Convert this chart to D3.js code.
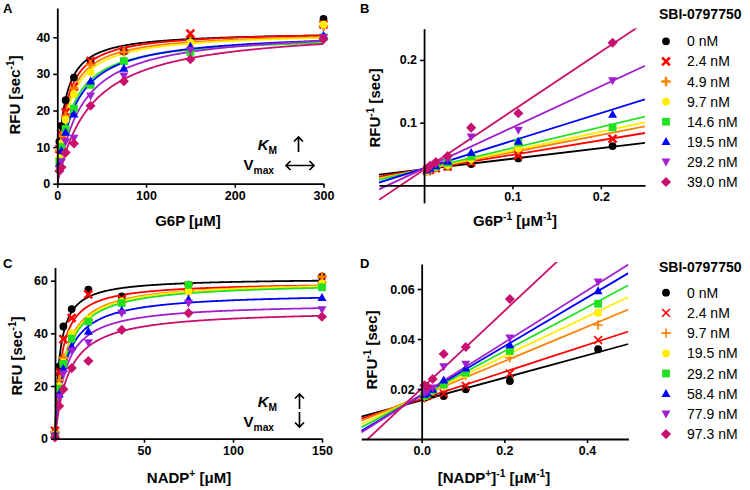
<!DOCTYPE html>
<html><head><meta charset="utf-8">
<script src="https://cdn.jsdelivr.net/npm/d3@7"></script>
<style>
body{margin:0;background:#fff}
text{font-family:"Liberation Sans",Arial,Helvetica,sans-serif}
</style>
</head><body>
<svg id="chart" width="750" height="490"></svg>
<script>
// ---------------- data ----------------
const legendTitle = "SBI-0797750";
const legendB = ["0 nM","2.4 nM","4.9 nM","9.7 nM","14.6 nM","19.5 nM","29.2 nM","39.0 nM"];
const legendD = ["0 nM","2.4 nM","9.7 nM","19.5 nM","29.2 nM","58.4 nM","77.9 nM","97.3 nM"];

// Panel A: RFU vs G6P
const g6p = [2.34, 4.69, 9.38, 18.75, 37.5, 75, 150, 300];
const rfuA = [
  [11.5, 15.8, 22.8, 29.0, 33.3, 36.2, 39.5, 45.0],
  [9.5, 13.5, 19.5, 26.5, 33.5, 36.5, 41.0, 43.5],
  [9.0, 13.0, 18.5, 26.0, 32.5, 36.0, 39.0, 43.0],
  [7.0, 11.0, 17.5, 24.5, 30.5, 33.5, 38.5, 43.5],
  [6.0, 10.0, 15.0, 20.5, 27.0, 33.5, 36.0, 40.0],
  [5.5, 9.0, 14.0, 19.0, 28.0, 31.5, 37.5, 40.5],
  [4.0, 6.0, 11.5, 12.5, 24.0, 29.5, 36.5, 40.0],
  [3.5, 4.5, 8.5, 11.0, 21.3, 28.0, 34.0, 39.5]
];
const vmaxA = [41.5, 41.8, 41.5, 41.5, 40.5, 41.5, 42.5, 43.0];
const kmA   = [7.5, 9.5, 11.0, 12.5, 16.0, 19.0, 27.0, 38.0];

// Panel B: double reciprocal of A
const invG6p = [0.0033, 0.0067, 0.0133, 0.0267, 0.0533, 0.1067, 0.2133];
const invRfuB = [
  [0.0225, 0.0255, 0.028, 0.030, 0.034, 0.043, 0.0627],
  [0.023, 0.0245, 0.0275, 0.030, 0.037, 0.048, 0.0743],
  [0.0235, 0.025, 0.028, 0.031, 0.040, 0.057, null],
  [0.023, 0.026, 0.029, 0.032, 0.042, 0.059, null],
  [0.025, 0.028, 0.030, 0.036, 0.046, 0.068, 0.0925],
  [0.0245, 0.027, 0.031, 0.038, 0.052, 0.070, 0.113],
  [0.025, 0.029, 0.034, 0.042, 0.0775, 0.088, 0.167],
  [0.026, 0.031, 0.037, 0.0467, 0.092, 0.115, 0.2275]
];
const slopeB     = [0.168, 0.232, 0.274, 0.300, 0.334, 0.441, 0.655, 0.940];
const interceptB = [0.0257, 0.0255, 0.0255, 0.0255, 0.0260, 0.0270, 0.0270, 0.0250];

// Panel C: RFU vs NADP+
const nadp = [0, 2.34, 4.69, 9.38, 18.75, 37.5, 75, 150];
const rfuC = [
  [2.0, 27.4, 42.6, 49.2, 56.6, 54.0, 58.5, 61.5],
  [3.0, 25.5, 37.8, 45.8, 54.8, 53.0, 57.5, 60.5],
  [2.5, 22.3, 30.6, 39.5, 45.0, 52.0, 56.0, 61.5],
  [1.5, 20.0, 29.0, 40.1, 45.5, 52.0, 56.0, 59.0],
  [1.0, 19.0, 28.4, 38.0, 44.5, 51.5, 58.4, 57.5],
  [1.5, 16.9, 26.6, 35.0, 40.7, 48.7, 53.0, 53.5],
  [1.0, 15.9, 24.7, 33.5, 36.5, 47.7, 51.5, 49.0],
  [0.5, 12.4, 18.8, 26.8, 29.5, 41.3, 47.7, 46.3]
];
const vmaxC = [61.0, 59.5, 60.0, 60.0, 59.5, 55.5, 51.5, 49.0];
const kmC   = [2.5, 3.4, 5.2, 5.5, 5.8, 5.6, 5.8, 7.5];

// Panel D: double reciprocal of C
const invNadp = [0.0067, 0.0133, 0.0267, 0.0533, 0.1067, 0.2133, 0.4267];
const invRfuD = [
  [0.0165, 0.0170, 0.0178, 0.0172, 0.0199, 0.0232, 0.0359],
  [0.0170, 0.0172, 0.0183, 0.0182, 0.0213, 0.0262, 0.0396],
  [0.0163, 0.0178, 0.0192, 0.0210, 0.0255, 0.0325, 0.0456],
  [0.0172, 0.0180, 0.0193, 0.0215, 0.0260, 0.0345, 0.0505],
  [0.0173, 0.0180, 0.0195, 0.0218, 0.0265, 0.0352, 0.0541],
  [0.0178, 0.0183, 0.0198, 0.0235, 0.0283, 0.0376, 0.0592],
  [0.0185, 0.0190, 0.0205, 0.0290, 0.0300, 0.0405, 0.0629],
  [0.0215, 0.0210, 0.0240, 0.0340, 0.0368, 0.0560, null]
];
const slopeD     = [0.045, 0.054, 0.069, 0.0788, 0.088, 0.0977, 0.104, 0.155];
const interceptD = [0.0155, 0.0160, 0.0173, 0.0174, 0.0175, 0.0175, 0.0178, 0.0202];

// ---------------- styles ----------------
const colors = ["#000000","#ff0000","#ff7f00","#ffee00","#22e022","#0000ff","#a020d0","#c8106e"];
const shapes = ["circle","x","plus","circle","square","triUp","triDown","diamond"];
const LW = 1.8, MR = 3.9;

const svg = d3.select("#chart");
const FONT = '"Liberation Sans",Arial,Helvetica,sans-serif';

function symbolPath(shape, r) {
  switch (shape) {
    case "circle": return d3.symbol(d3.symbolCircle, Math.PI*r*r)();
    case "square": return d3.symbol(d3.symbolSquare, 4*r*r)();
    case "triUp": return `M0,${-r*1.2}L${r*1.15},${r*0.85}L${-r*1.15},${r*0.85}Z`;
    case "triDown": return `M0,${r*1.2}L${r*1.15},${-r*0.85}L${-r*1.15},${-r*0.85}Z`;
    case "diamond": return `M0,${-r*1.3}L${r*1.3},0L0,${r*1.3}L${-r*1.3},0Z`;
    case "x": return `M${-r},${-r}L${r},${r}M${-r},${r}L${r},${-r}`;
    case "plus": return `M${-r*1.2},0L${r*1.2},0M0,${-r*1.2}L0,${r*1.2}`;
  }
}
function addMarker(g, i, x, y, r, thin) {
  const s = shapes[i];
  const stroked = (s === "x" || s === "plus");
  g.append("path")
    .attr("transform", `translate(${x},${y})`)
    .attr("d", symbolPath(s, r))
    .attr("fill", stroked ? "none" : colors[i])
    .attr("stroke", stroked ? colors[i] : "none")
    .attr("stroke-width", stroked ? (thin ? 1.6 : 2.5) : 0);
}

function richText(g, x, y, parts, opts) {
  const t = g.append("text").attr("x", x).attr("y", y)
    .attr("font-size", opts.size).attr("font-weight", opts.weight || "bold")
    .attr("text-anchor", opts.anchor || "middle").attr("fill", "#000");
  if (opts.transform) t.attr("transform", opts.transform);
  let shift = 0;
  parts.forEach(p => {
    const [txt, kind, extra] = p;
    const ts = t.append("tspan").text(txt);
    let target = 0;
    if (kind === "sup") { target = -opts.size*0.4; ts.attr("font-size", opts.size*0.68); }
    else if (kind === "sub") { target = opts.size*0.25; ts.attr("font-size", opts.size*0.68); }
    if (extra) ts.attr("font-style", extra);
    ts.attr("dy", target - shift);
    shift = target;
  });
  return t;
}

function styleAxis(g) {
  g.selectAll("path.domain").attr("stroke", "#000").attr("stroke-width", 1.8);
  g.selectAll(".tick line").attr("stroke", "#000").attr("stroke-width", 1.6);
  g.selectAll(".tick text").attr("font-family", FONT).attr("font-size", 12.5)
    .attr("font-weight", "bold").attr("fill", "#000");
}

function clipRect(id, x0, y0, x1, y1) {
  svg.append("clipPath").attr("id", id).append("rect")
    .attr("x", x0).attr("y", y0).attr("width", x1 - x0).attr("height", y1 - y0);
}

// ---------------- Panel A ----------------
const xA = d3.scaleLinear([0, 300], [57.3, 323.5]);
const yA = d3.scaleLinear([0, 48], [183.7, 8]);
clipRect("clipA", 57, 6, 326, 184.5);
{
  const g = svg.append("g");
  const gl = g.append("g").attr("clip-path", "url(#clipA)");
  const xs = d3.range(0, 20, 0.1).concat(d3.range(20, 300.5, 1));
  const line = d3.line().x(d => xA(d[0])).y(d => yA(d[1]));
  vmaxA.forEach((v, i) => {
    gl.append("path").datum(xs.map(x => [x, v * x / (kmA[i] + x)]))
      .attr("d", line).attr("fill", "none").attr("stroke", colors[i]).attr("stroke-width", LW);
  });
  rfuA.forEach((row, i) => row.forEach((v, j) => {
    if (v != null) addMarker(g, i, xA(g6p[j]), yA(v), MR);
  }));
  const ax = g.append("g").attr("transform", `translate(0,${yA(0)})`)
    .call(d3.axisBottom(xA).tickValues([0, 100, 200, 300]).tickSize(4).tickSizeOuter(0).tickPadding(3));
  styleAxis(ax);
  const ay = g.append("g").attr("transform", `translate(${xA(0)},0)`)
    .call(d3.axisLeft(yA).tickValues([0, 10, 20, 30, 40]).tickSize(4).tickSizeOuter(0).tickPadding(3));
  styleAxis(ay);
  richText(svg, 0, 0, [["RFU [sec"], ["-1", "sup"], ["]"]], {size: 15, transform: "translate(20,95) rotate(-90)"});
  richText(svg, 188, 226, [["G6P [μM]"]], {size: 15});
  richText(svg, 277, 150, [["K", null, "italic"], ["M", "sub"]], {size: 15, anchor: "end"});
  richText(svg, 274, 170, [["V"], ["max", "sub"]], {size: 15, anchor: "end"});
  const arr = svg.append("g").attr("fill", "none").attr("stroke", "#000").attr("stroke-width", 1.7);
  arr.append("path").attr("d", "M298.5,152L298.5,137M294,141.5L298.5,137L303,141.5");
  arr.append("path").attr("d", "M286,165.5L314,165.5M290.5,161L286,165.5L290.5,170M309.5,161L314,165.5L309.5,170");
}

// ---------------- Panel B ----------------
const xB = d3.scaleLinear([-0.051, 0.25], [379, 645]);
const yB = d3.scaleLinear([-0.028, 0.25], [202.9, 28.6]);
clipRect("clipB", 379, 28.6, 645, 202.9);
{
  const g = svg.append("g");
  const gl = g.append("g").attr("clip-path", "url(#clipB)");
  slopeB.forEach((s, i) => {
    const x0 = -0.051, x1 = 0.25;
    gl.append("line").attr("x1", xB(x0)).attr("y1", yB(interceptB[i] + s * x0))
      .attr("x2", xB(x1)).attr("y2", yB(interceptB[i] + s * x1))
      .attr("stroke", colors[i]).attr("stroke-width", LW);
  });
  invRfuB.forEach((row, i) => row.forEach((v, j) => {
    if (v != null) addMarker(g, i, xB(invG6p[j]), yB(v), MR);
  }));
  const ax = g.append("g").attr("transform", `translate(0,${yB(0)})`)
    .call(d3.axisBottom(xB).tickValues([0.1, 0.2]).tickFormat(d3.format(".1f")).tickSize(4).tickSizeOuter(0).tickPadding(3));
  styleAxis(ax);
  const ay = g.append("g").attr("transform", `translate(${xB(0)},0)`)
    .call(d3.axisLeft(yB).tickValues([0.1, 0.2]).tickFormat(d3.format(".1f")).tickSize(4).tickSizeOuter(0).tickPadding(3));
  styleAxis(ay);
  richText(svg, 0, 0, [["RFU"], ["-1", "sup"], [" [sec]"]], {size: 15, transform: "translate(380,108) rotate(-90)"});
  richText(svg, 515, 226, [["G6P"], ["-1", "sup"], [" [μM"], ["-1", "sup"], ["]"]], {size: 15});
}

// ---------------- Panel C ----------------
const xC = d3.scaleLinear([0, 150], [55, 322]);
const yC = d3.scaleLinear([0, 65], [438.7, 267.5]);
clipRect("clipC", 54, 265, 326, 439.5);
{
  const g = svg.append("g");
  const gl = g.append("g").attr("clip-path", "url(#clipC)");
  const xs = d3.range(0, 10, 0.05).concat(d3.range(10, 150.5, 0.5));
  const line = d3.line().x(d => xC(d[0])).y(d => yC(d[1]));
  vmaxC.forEach((v, i) => {
    gl.append("path").datum(xs.map(x => [x, v * x / (kmC[i] + x)]))
      .attr("d", line).attr("fill", "none").attr("stroke", colors[i]).attr("stroke-width", LW);
  });
  rfuC.forEach((row, i) => row.forEach((v, j) => {
    if (v != null) addMarker(g, i, xC(nadp[j]), yC(v), MR);
  }));
  const ax = g.append("g").attr("transform", `translate(0,${yC(0)})`)
    .call(d3.axisBottom(xC).tickValues([50, 100, 150]).tickSize(4).tickSizeOuter(0).tickPadding(3));
  styleAxis(ax);
  const ay = g.append("g").attr("transform", `translate(${xC(0)},0)`)
    .call(d3.axisLeft(yC).tickValues([0, 20, 40, 60]).tickSize(4).tickSizeOuter(0).tickPadding(3));
  styleAxis(ay);
  richText(svg, 0, 0, [["RFU [sec"], ["-1", "sup"], ["]"]], {size: 15, transform: "translate(21.5,356) rotate(-90)"});
  richText(svg, 189, 483, [["NADP"], ["+", "sup"], [" [μM]"]], {size: 15});
  richText(svg, 277, 407, [["K", null, "italic"], ["M", "sub"]], {size: 15, anchor: "end"});
  richText(svg, 274, 427, [["V"], ["max", "sub"]], {size: 15, anchor: "end"});
  const arr = svg.append("g").attr("fill", "none").attr("stroke", "#000").attr("stroke-width", 1.7);
  arr.append("path").attr("d", "M299.5,409L299.5,394M295,398.5L299.5,394L304,398.5");
  arr.append("path").attr("d", "M299.5,412L299.5,427M295,422.5L299.5,427L304,422.5");
}

// ---------------- Panel D ----------------
const xD = d3.scaleLinear([-0.146, 0.5], [361.3, 628.4]);
const yD = d3.scaleLinear([0, 0.07], [439, 264]);
clipRect("clipD", 361.3, 262, 628.4, 439);
{
  const g = svg.append("g");
  const gl = g.append("g").attr("clip-path", "url(#clipD)");
  slopeD.forEach((s, i) => {
    const x0 = -0.146, x1 = 0.5;
    gl.append("line").attr("x1", xD(x0)).attr("y1", yD(interceptD[i] + s * x0))
      .attr("x2", xD(x1)).attr("y2", yD(interceptD[i] + s * x1))
      .attr("stroke", colors[i]).attr("stroke-width", LW);
  });
  invRfuD.forEach((row, i) => row.forEach((v, j) => {
    if (v != null) addMarker(g, i, xD(invNadp[j]), yD(v), MR, true);
  }));
  const ax = g.append("g").attr("transform", `translate(0,${yD(0)})`)
    .call(d3.axisBottom(xD).tickValues([0, 0.2, 0.4]).tickFormat(d3.format(".1f")).tickSize(4).tickSizeOuter(0).tickPadding(3));
  styleAxis(ax);
  const ay = g.append("g").attr("transform", `translate(${xD(0)},0)`)
    .call(d3.axisLeft(yD).tickValues([0.02, 0.04, 0.06]).tickFormat(d3.format(".2f")).tickSize(4).tickSizeOuter(0).tickPadding(3));
  styleAxis(ay);
  richText(svg, 0, 0, [["RFU"], ["-1", "sup"], [" [sec]"]], {size: 15, transform: "translate(377,350) rotate(-90)"});
  richText(svg, 494, 483, [["[NADP"], ["+", "sup"], ["]"], ["-1", "sup"], [" [μM"], ["-1", "sup"], ["]"]], {size: 15});
}

// ---------------- Legends ----------------
function legend(labels, titleY, rowY0, step, thin) {
  const g = svg.append("g");
  g.append("text").attr("x", 659).attr("y", titleY).attr("font-size", 14)
    .attr("font-weight", "bold").text(legendTitle);
  labels.forEach((lab, i) => {
    const y = rowY0 + i * step;
    addMarker(g, i, 666, y, MR, thin);
    g.append("text").attr("x", 687).attr("y", y + 5).attr("font-size", 14).text(lab);
  });
}
legend(legendB, 19, 41.3, 20.1, false);
legend(legendD, 272, 292.7, 20.2, true);

// ---------------- Panel letters ----------------
[["A", 3, 13], ["B", 360, 13], ["C", 3, 268], ["D", 360, 268]].forEach(([t, x, y]) => {
  svg.append("text").attr("x", x).attr("y", y).attr("font-size", 13).attr("font-weight", "bold").text(t);
});
</script>
</body></html>
